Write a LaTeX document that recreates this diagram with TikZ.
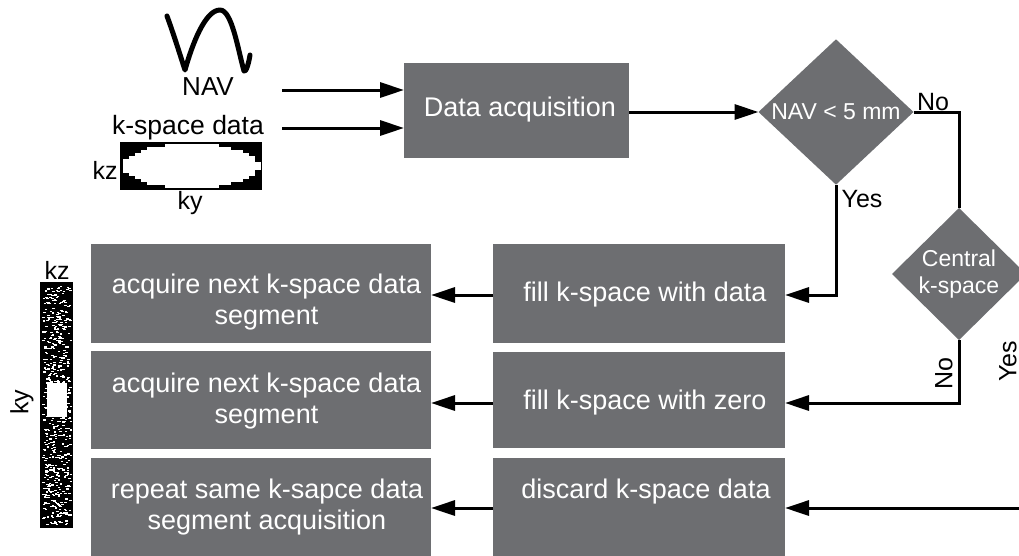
\documentclass[tikz,border=0pt]{standalone}
\usepackage{fontspec}
\setmainfont{Liberation Sans}
\usetikzlibrary{shapes.geometric,arrows.meta}
\definecolor{boxgray}{RGB}{109,110,113}
\begin{document}
\begin{tikzpicture}[x=1pt,y=-1pt,
 box/.style={rectangle, fill=boxgray, inner sep=0pt, outer sep=0pt},
 boxtext/.style={text=white, inner sep=0pt, align=center, font=\fontsize{27}{31}\selectfont},
 dia/.style={diamond, fill=boxgray, text=white, inner sep=0pt, outer sep=0pt, align=center, font=\fontsize{23}{27}\selectfont},
 conn/.style={line width=3pt},
 arr/.style={conn, -{Triangle[length=24pt,width=15pt]}},
 lbl/.style={font=\fontsize{25}{30}\selectfont, inner sep=0pt},
]
\path[use as bounding box, clip] (0,0) rectangle (1019,555);
\fill[white] (0,0) rectangle (1019,555);

% NAV waveform
\draw[line width=5pt, line cap=round, line join=round]
  (167,16) .. controls (175,38) and (181,58) .. (185,70)
  .. controls (192,45) and (205,10) .. (220,10)
  .. controls (232,10) and (238,50) .. (244,71)
  .. controls (246,73) and (249,62) .. (250,55);
\node[lbl, font=\fontsize{26}{30}\selectfont] (navlbl) at (208,87) {NAV};
\node[lbl, font=\fontsize{26.5}{30}\selectfont] (kslbl) at (188,128) {k-space data};

% k-space rectangle
\fill[black] (120,142) rectangle (262,190);
\foreach \i in {0,...,22}{
  \pgfmathsetmacro{\xa}{123+6*\i}
  \pgfmathsetmacro{\xm}{\xa+3-191}
  \pgfmathsetmacro{\hh}{3*round(7*sqrt(max(0,1-(\xm/68)^2)))+1}
  \fill[white] (\xa,166-\hh) rectangle (\xa+6.3,166+\hh);
}
\node[lbl] (kzA) at (105,170) {kz};
\node[lbl] (kyA) at (190,203) {ky};

% kz/ky stripe
\fill[black] (40,282) rectangle (73,528);
\pgfmathsetseed{7}
\foreach \i in {1,...,560}{
  \pgfmathsetmacro{\rx}{42+rnd*28}
  \pgfmathsetmacro{\ry}{286+rnd*238}
  \fill[white] (\rx,\ry) rectangle ++(2.5,1.2);
}
\fill[white] (47,383) rectangle (67,417);
\node[lbl] (kzB) at (57,270) {kz};
\node[lbl, rotate=90] (kyB) at (22,402) {ky};

% boxes
\node[box, minimum width=225, minimum height=95] (acq) at (516.5,110.5) {};
\node[boxtext] (acqt) at (520,110) {Data acquisition};
\node[box, minimum width=292, minimum height=99] (fd) at (639,293.5) {};
\node[boxtext] (fdt) at (645,295) {fill k-space with data};
\node[box, minimum width=292, minimum height=96] (fz) at (639,399.5) {};
\node[boxtext] (fzt) at (645,403) {fill k-space with zero};
\node[box, minimum width=292, minimum height=102] (dc) at (639,509) {};
\node[boxtext] (dct) at (646,492) {discard k-space data};
\node[box, minimum width=340, minimum height=99] (an1) at (261,293.5) {};
\node[boxtext] (an1t) at (266.5,302) {acquire next k-space data\\segment};
\node[box, minimum width=340, minimum height=98] (an2) at (261,400) {};
\node[boxtext] (an2t) at (266.5,401.5) {acquire next k-space data\\segment};
\node[box, minimum width=340, minimum height=102] (rp) at (261,509) {};
\node[boxtext] (rpt) at (267,507.5) {repeat same k-sapce data\\segment acquisition};

% diamonds
\node[dia, minimum width=155, minimum height=140] (nav) at (836,112) {NAV < 5 mm};
\node[dia, minimum width=134, minimum height=132] (central) at (959,274) {Central\\k-space};

% connectors
\coordinate (navout) at (282,90);
\coordinate (kout) at (282,128);
\coordinate (yesturn) at (1045,274);
\coordinate (dcin) at (1019,508);
\draw[arr] (navout) -- (navout -| acq.west);
\draw[arr] (kout) -- (kout -| acq.west);
\draw[arr] (acq.east |- nav.west) -- (nav.west);
\draw[conn] (nav.east) -| (central.north);
\draw[arr] (nav.south) |- (fd.east |- fdt);
\draw[arr] (central.south) |- (fz.east |- fzt);
\draw[arr] (central.east) -- (yesturn) |- (dc.east |- dcin);
\draw[arr] (fd.west |- fdt) -- (an1.east |- fdt);
\draw[arr] (fz.west |- fzt) -- (an2.east |- fzt);
\draw[arr] (dc.west |- dcin) -- (rp.east |- dcin);

% labels
\node[lbl] (noA) at (933,102) {No};
\node[lbl] (yesA) at (862,199) {Yes};
\node[lbl, rotate=90] (noB) at (944,374) {No};
\node[lbl, rotate=90] (yesB) at (1008,361) {Yes};
\end{tikzpicture}
\end{document}
